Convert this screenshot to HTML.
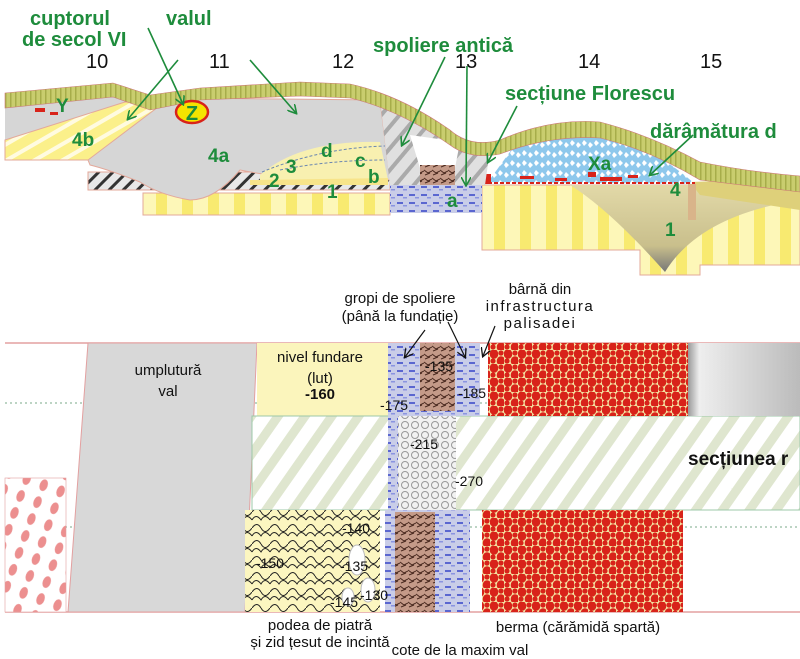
<!DOCTYPE html>
<html><head><meta charset="utf-8"><style>
html,body{margin:0;padding:0;background:#fff;width:800px;height:659px;overflow:hidden}
svg{display:block}
.g{font-family:"Liberation Sans",sans-serif;font-weight:bold;fill:#1e8c3c}
.n{font-family:"Liberation Sans",sans-serif;fill:#111}
</style></head><body>
<svg width="800" height="659" viewBox="0 0 800 659" xmlns="http://www.w3.org/2000/svg">
<defs>
<pattern id="olive" width="5" height="10" patternUnits="userSpaceOnUse"><rect width="5" height="10" fill="#c9cd6e"/><rect width="1.5" height="10" fill="#a7ad4a"/></pattern>
<pattern id="ystripe" width="26" height="10" patternUnits="userSpaceOnUse"><rect width="26" height="10" fill="#fdf7b8"/><rect width="11" height="10" fill="#f8ea70"/></pattern>
<pattern id="ydiag" width="14" height="14" patternUnits="userSpaceOnUse" patternTransform="rotate(-30)"><rect width="14" height="14" fill="#fbf08a"/><rect width="14" height="4" fill="#fffbe0"/></pattern>
<pattern id="hatch" width="10" height="10" patternUnits="userSpaceOnUse" patternTransform="rotate(45)"><rect width="10" height="10" fill="#e8e8e8"/><rect width="3" height="10" fill="#333"/></pattern>
<pattern id="ghatch" width="14" height="14" patternUnits="userSpaceOnUse" patternTransform="rotate(40)"><rect width="14" height="14" fill="#e0e0e0"/><rect width="4" height="14" fill="#aaa"/></pattern>
<pattern id="green" width="22" height="22" patternUnits="userSpaceOnUse" patternTransform="rotate(35)"><rect width="22" height="22" fill="#fff"/><rect width="9" height="22" fill="#dfe6cf"/></pattern>
<pattern id="blue" width="12" height="8" patternUnits="userSpaceOnUse"><rect width="12" height="8" fill="#c9cde8"/><rect x="1" y="2" width="6" height="2" fill="#5a66d0"/><rect x="7" y="5" width="4" height="1.5" fill="#8a94e0"/></pattern>
<pattern id="xa" width="12" height="10" patternUnits="userSpaceOnUse"><rect width="12" height="10" fill="#8ec8ec"/><path d="M2 2l3 3-3 3-2-3z M8 0l3 3-3 3-2-3z" fill="#fff"/></pattern>
<pattern id="brown" width="8" height="8" patternUnits="userSpaceOnUse"><rect width="8" height="8" fill="#c49a88"/><path d="M0 2l4 3 4-2M1 7l5-2" stroke="#4a2a20" stroke-width="1" fill="none"/></pattern>
<pattern id="brick" width="14" height="14" patternUnits="userSpaceOnUse"><rect width="14" height="14" fill="#f3e3a2"/><ellipse cx="4" cy="4" rx="4.3" ry="4.8" fill="#d8231a"/><ellipse cx="11" cy="11" rx="4.3" ry="4.8" fill="#d8231a"/><ellipse cx="11" cy="3" rx="2.6" ry="2.6" fill="#d8231a"/><ellipse cx="3" cy="11" rx="2.6" ry="2.6" fill="#d8231a"/></pattern>
<pattern id="gravel" width="10" height="10" patternUnits="userSpaceOnUse"><rect width="10" height="10" fill="#f2f2f2"/><circle cx="5" cy="5" r="3.5" fill="none" stroke="#999" stroke-width="1"/></pattern>
<pattern id="stone" width="18" height="16" patternUnits="userSpaceOnUse"><rect width="18" height="16" fill="#fcf6c0"/><path d="M0 8q4-7 9 0q4-7 9 0M9 16q-4-7-9 0M9 0q4 7 9 0" stroke="#222" fill="none" stroke-width="1"/></pattern>
<pattern id="pink" width="18" height="18" patternUnits="userSpaceOnUse" patternTransform="rotate(20)"><rect width="18" height="18" fill="#fff"/><ellipse cx="9" cy="9" rx="4" ry="6" fill="#ec8f8f"/></pattern>
<linearGradient id="tan" x1="0" y1="0" x2="0" y2="1"><stop offset="0" stop-color="#e2d9a8"/><stop offset="0.7" stop-color="#c9bf8c"/><stop offset="1" stop-color="#777"/></linearGradient>
<linearGradient id="gr" x1="0" y1="0" x2="1" y2="0"><stop offset="0" stop-color="#999"/><stop offset="0.1" stop-color="#eee"/><stop offset="1" stop-color="#bbb"/></linearGradient>
<marker id="ar" markerWidth="10" markerHeight="10" refX="8" refY="5" orient="auto" markerUnits="userSpaceOnUse"><path d="M0 0L9 5L0 10" fill="none" stroke="#1e8c3c" stroke-width="1.6"/></marker>
<marker id="ak" markerWidth="10" markerHeight="10" refX="8" refY="5" orient="auto" markerUnits="userSpaceOnUse"><path d="M0 0L9 5L0 10" fill="none" stroke="#111" stroke-width="1.3"/></marker>
</defs>

<!-- TOP SECTION -->
<path d="M482 185H800V265H700V275H640V250H482Z" fill="url(#ystripe)" stroke="#e3a89a"/>
<path d="M570 185Q610 210 665 272Q700 215 800 200V185Z" fill="url(#tan)"/>
<path d="M690 182L800 178V210L700 195Z" fill="#ded07a"/>
<rect x="688" y="184" width="8" height="36" fill="#d9b48a"/>
<path d="M488 182L520 138Q555 122 600 128Q650 145 695 184Z" fill="url(#xa)"/>
<path d="M488 183H695" stroke="#d8231a" stroke-width="2" stroke-dasharray="4 2"/>
<g fill="#d8231a"><rect x="520" y="176" width="14" height="3"/><rect x="555" y="178" width="12" height="3"/><rect x="588" y="172" width="8" height="5"/><rect x="600" y="177" width="22" height="4"/><rect x="628" y="175" width="10" height="3"/><rect x="485" y="174" width="6" height="10"/></g>
<rect x="143" y="193" width="247" height="22" fill="url(#ystripe)" stroke="#e3a89a"/>
<rect x="88" y="172" width="302" height="18" fill="url(#hatch)" stroke="#e3a89a"/>
<path d="M5 98L115 92L180 100L88 160H5Z" fill="#d6d6d6"/>
<path d="M5 140L125 102L175 102L90 160H5Z" fill="url(#ydiag)" stroke="#e3a89a"/>
<g fill="#d8231a"><rect x="35" y="108" width="10" height="4"/><rect x="50" y="112" width="8" height="3"/><rect x="8" y="104" width="6" height="3"/></g>
<path d="M170 98L380 100L390 180L330 178Q290 180 240 170Q215 200 190 200Q160 195 140 182Q110 170 90 165L88 160Z" fill="#d6d6d6" stroke="#e3a89a"/>
<path d="M260 175Q300 140 380 142L388 180H260Z" fill="#f8f0b0"/>
<path d="M250 180L388 178L388 185H250Z" fill="#f7e48a"/>
<path d="M262 172Q320 148 385 146M280 170Q330 160 385 160" stroke="#6a86b0" stroke-dasharray="3 2" fill="none"/>
<path d="M380 100L490 150L485 185H390Z" fill="url(#ghatch)"/>
<path d="M410 135L460 142L455 168H420Z" fill="#fff"/>
<rect x="420" y="165" width="35" height="22" fill="url(#brown)"/>
<rect x="390" y="185" width="92" height="28" fill="url(#blue)"/>
<path d="M5 93L113 83L150 95L200 88L300 82L350 84Q400 95 450 130Q470 148 500 140Q550 118 600 122Q650 135 700 162Q750 172 800 176V192Q750 186 700 180Q650 150 600 138Q550 135 500 154Q470 160 450 145Q400 110 350 98L300 96L200 100L150 110L113 97L5 108Z" fill="url(#olive)" stroke="#c77" stroke-width=".6"/>
<ellipse cx="192" cy="112" rx="16" ry="11" fill="#f5e400" stroke="#d8231a" stroke-width="2.5"/>
<text x="192" y="120" class="g" font-size="20" text-anchor="middle">Z</text>
<text x="30" y="25" class="g" font-size="20">cuptorul</text>
<text x="22" y="46" class="g" font-size="20">de secol VI</text>
<text x="166" y="25" class="g" font-size="20">valul</text>
<text x="373" y="52" class="g" font-size="20">spoliere antică</text>
<text x="505" y="100" class="g" font-size="20">secțiune Florescu</text>
<text x="650" y="138" class="g" font-size="20">dărâmătura d</text>
<g class="n" font-size="20"><text x="86" y="68">10</text><text x="209" y="68">11</text><text x="332" y="68">12</text><text x="455" y="68">13</text><text x="578" y="68">14</text><text x="700" y="68">15</text></g>
<g class="g" font-size="19"><text x="56" y="112">Y</text><text x="72" y="146">4b</text><text x="208" y="162">4a</text><text x="321" y="157">d</text><text x="355" y="167">c</text><text x="368" y="183">b</text><text x="286" y="173">3</text><text x="269" y="187">2</text><text x="327" y="198">1</text><text x="447" y="207">a</text><text x="588" y="170">Xa</text><text x="670" y="196">4</text><text x="665" y="236">1</text></g>
<g stroke="#1e8c3c" stroke-width="1.6" fill="none" marker-end="url(#ar)">
<line x1="148" y1="28" x2="183" y2="104"/><line x1="178" y1="60" x2="128" y2="119"/><line x1="250" y1="60" x2="296" y2="113"/>
<line x1="445" y1="57" x2="402" y2="145"/><line x1="467" y1="66" x2="466" y2="185"/><line x1="517" y1="106" x2="488" y2="162"/><line x1="693" y1="135" x2="650" y2="175"/>
</g>

<!-- BOTTOM SECTION -->
<path d="M5 343H800M5 612H800" stroke="#e3a0a0" stroke-width="1.5"/>
<path d="M5 403H800M5 527H800" stroke="#7aa88a" stroke-dasharray="2 3"/>
<path d="M88 343H257L245 612H68Z" fill="#d8d8d8" stroke="#e3a0a0"/>
<rect x="5" y="478" width="61" height="134" fill="url(#pink)" stroke="#e3a0a0" stroke-width=".6"/>
<rect x="257" y="343" width="131" height="73" fill="#fbf5bc"/>
<rect x="252" y="416" width="548" height="94" fill="url(#green)" stroke="#9cc8a8"/>
<rect x="388" y="343" width="92" height="73" fill="url(#blue)"/>
<rect x="420" y="343" width="35" height="68" fill="url(#brown)"/>
<rect x="388" y="416" width="10" height="94" fill="url(#blue)"/>
<rect x="398" y="416" width="58" height="94" fill="url(#gravel)"/>
<rect x="488" y="343" width="200" height="73" fill="url(#brick)"/>
<rect x="688" y="343" width="112" height="73" fill="url(#gr)"/>
<rect x="482" y="510" width="201" height="102" fill="url(#brick)"/>
<rect x="245" y="510" width="135" height="102" fill="url(#stone)"/>
<g fill="#fff" stroke="#bbb"><ellipse cx="357" cy="560" rx="8" ry="15"/><ellipse cx="368" cy="590" rx="7" ry="12"/><ellipse cx="348" cy="597" rx="6" ry="9"/></g>
<rect x="385" y="510" width="85" height="102" fill="url(#blue)"/>
<rect x="395" y="512" width="40" height="100" fill="url(#brown)"/>
<g class="n" font-size="15" text-anchor="middle"><text x="168" y="375">umplutură</text><text x="168" y="396">val</text>
<text x="320" y="362">nivel fundare</text><text x="320" y="383">(lut)</text><text x="320" y="399" font-weight="bold">-160</text>
<text x="400" y="303">gropi de spoliere</text><text x="400" y="321">(până la fundație)</text>
<text x="540" y="294">bârnă din</text><text x="540" y="311" letter-spacing="1.5">infrastructura</text><text x="540" y="328" letter-spacing="1.5">palisadei</text>
<text x="320" y="630">podea de piatră</text><text x="320" y="647">și zid țesut de incintă</text>
<text x="578" y="632">berma (cărămidă spartă)</text><text x="460" y="655">cote de la maxim val</text></g>
<text x="688" y="465" class="n" font-size="19" font-weight="bold">secțiunea r</text>
<g class="n" font-size="14"><text x="380" y="410">-175</text><text x="425" y="371">-135</text><text x="458" y="398">-185</text><text x="410" y="449">-215</text><text x="455" y="486">-270</text><text x="342" y="533">-140</text><text x="256" y="568">-150</text><text x="340" y="571">-135</text><text x="330" y="607">-145</text><text x="360" y="600">-130</text></g>
<g stroke="#111" stroke-width="1.2" fill="none" marker-end="url(#ak)"><line x1="425" y1="330" x2="405" y2="357"/><line x1="448" y1="322" x2="465" y2="357"/><line x1="495" y1="326" x2="483" y2="356"/></g>
</svg>
</body></html>
